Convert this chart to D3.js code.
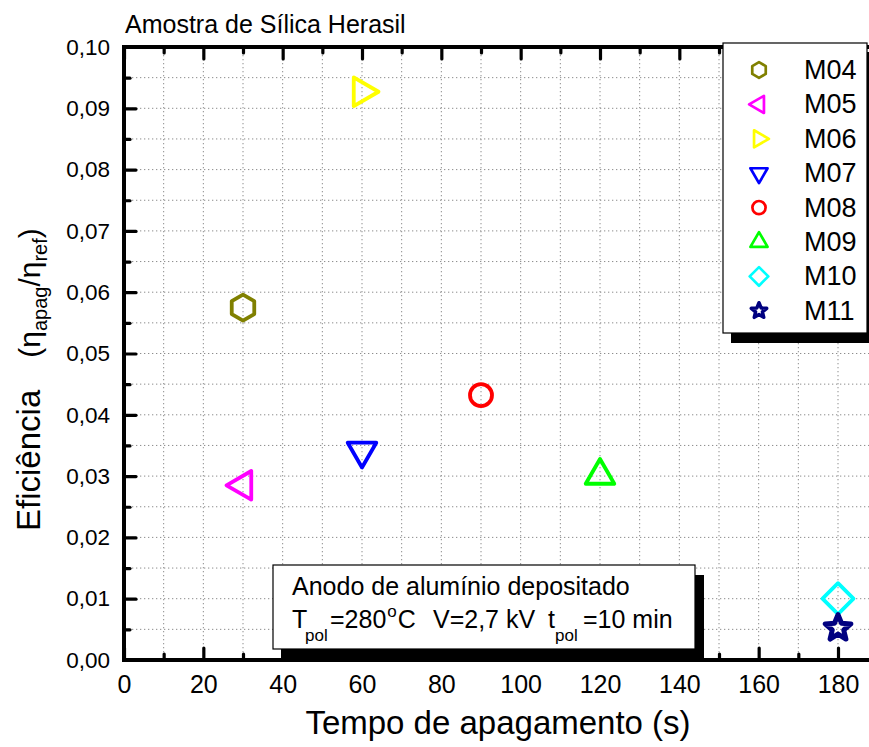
<!DOCTYPE html>
<html>
<head>
<meta charset="utf-8">
<script src="https://cdn.jsdelivr.net/npm/d3@7"></script>
<style>
  html, body { margin: 0; padding: 0; background: #fff; }
  svg { display: block; font-family: "Liberation Sans", Arial, sans-serif; }
</style>
</head>
<body>
<svg id="chart" width="869" height="747"></svg>
<script>
// Quenching efficiency of Herasil silica samples vs. quenching time
const samples = ["M04", "M05", "M06", "M07", "M08", "M09", "M10", "M11"];
const times = [30, 30, 60, 60, 90, 120, 180, 180];           // s
const efficiency = [0.0575, 0.0285, 0.0927, 0.0341, 0.0432, 0.0301, 0.0100, 0.0052];
const colors = ["#808000", "#ff00ff", "#ffff00", "#0000ff", "#ff0000", "#00ff00", "#00ffff", "#000080"];
const shapes = ["hexagon", "triangleLeft", "triangleRight", "triangleDown", "circle", "triangleUp", "diamond", "star"];

const xMajorTicks = [0, 20, 40, 60, 80, 100, 120, 140, 160, 180];
const xMinorTicks = [10, 30, 50, 70, 90, 110, 130, 150, 170];
const yMajorTicks = [0, 0.01, 0.02, 0.03, 0.04, 0.05, 0.06, 0.07, 0.08, 0.09, 0.10];
const yMinorTicks = [0.005, 0.015, 0.025, 0.035, 0.045, 0.055, 0.065, 0.075, 0.085, 0.095];

const svg = d3.select("#chart");
const x = d3.scaleLinear().domain([0, 180]).range([124, 838]);
const y = d3.scaleLinear().domain([0, 0.10]).range([660, 47]);
const xEnd = x(190);

const ptBR = d3.formatLocale({ decimal: ",", thousands: ".", grouping: [3], currency: ["R$", ""] });
const yFmt = ptBR.format(".2f");

// marker path builders (centred on 0,0)
function polygon(pts) { return "M" + pts.map(p => p[0].toFixed(2) + "," + p[1].toFixed(2)).join("L") + "Z"; }
function markerPath(shape, s) {
  switch (shape) {
    case "hexagon":
      return polygon(d3.range(6).map(i => { const a = Math.PI / 3 * i - Math.PI / 2; return [13 * s * Math.cos(a), 13 * s * Math.sin(a)]; }));
    case "triangleUp":
    case "triangleDown":
    case "triangleLeft":
    case "triangleRight": {
      const rot = { triangleUp: -90, triangleDown: 90, triangleLeft: 180, triangleRight: 0 }[shape] * Math.PI / 180;
      const R = 16.5 * s;
      return polygon([0, 1, 2].map(i => { const a = rot + i * 2 * Math.PI / 3; return [R * Math.cos(a), R * Math.sin(a)]; }));
    }
    case "circle": {
      const r = 11 * s;
      return `M${r},0A${r},${r} 0 1,1 ${-r},0A${r},${r} 0 1,1 ${r},0Z`;
    }
    case "diamond": {
      const r = 15.5 * s;
      return polygon([[0, -r], [r, 0], [0, r], [-r, 0]]);
    }
    case "star": {
      const ro = 13.5 * s, ri = 6 * s;
      return polygon(d3.range(10).map(i => { const a = -Math.PI / 2 + i * Math.PI / 5; const r = i % 2 ? ri : ro; return [r * Math.cos(a), r * Math.sin(a)]; }));
    }
  }
}

// dotted grid
const grid = svg.append("g").attr("stroke", "#8c8c8c").attr("stroke-width", 1).attr("stroke-dasharray", "1.3,2.7");
grid.selectAll("line.gx").data(xMajorTicks.concat(xMinorTicks).filter(v => v > 0)).join("line")
  .attr("x1", d => x(d)).attr("x2", d => x(d)).attr("y1", y(0.10)).attr("y2", y(0));
grid.selectAll("line.gy").data(yMajorTicks.concat(yMinorTicks).filter(v => v > 0 && v < 0.10)).join("line")
  .attr("x1", x(0)).attr("x2", xEnd).attr("y1", d => y(d)).attr("y2", d => y(d));

// axes: inward ticks, labels only on the major ones
function styleAxis(g) {
  g.select(".domain").remove();
  g.selectAll(".tick line").attr("stroke", "#000").attr("stroke-width", 3.2).attr("stroke-linecap", "round");
  g.selectAll(".tick text").attr("fill", "#000");
}
svg.append("g").attr("transform", `translate(0,${y(0)})`)
  .call(d3.axisBottom(x).tickValues(xMajorTicks).tickSizeInner(-12).tickSizeOuter(0).tickPadding(28).tickFormat(d3.format("d")))
  .call(styleAxis).call(g => g.selectAll(".tick text").attr("font-size", 25).attr("dy", "0.2em"));
svg.append("g").attr("transform", `translate(0,${y(0)})`)
  .call(d3.axisBottom(x).tickValues(xMinorTicks).tickSizeInner(-6).tickSizeOuter(0).tickFormat(""))
  .call(styleAxis);
svg.append("g").attr("transform", `translate(0,${y(0.10)})`)
  .call(d3.axisTop(x).tickValues(xMajorTicks).tickSizeInner(-12).tickSizeOuter(0).tickFormat(""))
  .call(styleAxis);
svg.append("g").attr("transform", `translate(0,${y(0.10)})`)
  .call(d3.axisTop(x).tickValues(xMinorTicks).tickSizeInner(-6).tickSizeOuter(0).tickFormat(""))
  .call(styleAxis);
svg.append("g").attr("transform", `translate(${x(0)},0)`)
  .call(d3.axisLeft(y).tickValues(yMajorTicks).tickSizeInner(-12).tickSizeOuter(0).tickPadding(14).tickFormat(yFmt))
  .call(styleAxis).call(g => g.selectAll(".tick text").attr("font-size", 22.5).attr("text-anchor", "end").attr("x", -14));
svg.append("g").attr("transform", `translate(${x(0)},0)`)
  .call(d3.axisLeft(y).tickValues(yMinorTicks).tickSizeInner(-6).tickSizeOuter(0).tickFormat(""))
  .call(styleAxis);

// frame
const frame = svg.append("g").attr("stroke", "#000").attr("stroke-width", 4).attr("fill", "none");
frame.append("line").attr("x1", x(0)).attr("x2", xEnd).attr("y1", y(0)).attr("y2", y(0));
frame.append("line").attr("x1", x(0)).attr("x2", xEnd).attr("y1", y(0.10)).attr("y2", y(0.10));
frame.append("line").attr("x1", x(0)).attr("x2", x(0)).attr("y1", y(0.10) - 2).attr("y2", y(0) + 2);

// annotation box with drop shadow
const note = svg.append("g");
note.append("rect").attr("x", 281).attr("y", 575).attr("width", 423).attr("height", 83).attr("fill", "#000");
note.append("rect").attr("x", 273).attr("y", 565).attr("width", 422).attr("height", 84)
  .attr("fill", "#fff").attr("stroke", "#000").attr("stroke-width", 1.2);
note.append("text").attr("x", 292).attr("y", 595).attr("font-size", 25).text("Anodo de alumínio depositado");
const l2 = note.append("g").attr("font-size", 25);
l2.append("text").attr("x", 292).attr("y", 628).text("T");
l2.append("text").attr("x", 305).attr("y", 641).attr("font-size", 17).text("pol");
const tC = l2.append("text").attr("x", 330).attr("y", 628);
tC.append("tspan").text("=280");
tC.append("tspan").attr("font-size", 17).attr("dx", 1).attr("dy", -11).text("o");
tC.append("tspan").attr("dx", 1).attr("dy", 11).text("C");
l2.append("text").attr("x", 433).attr("y", 628).text("V=2,7 kV");
l2.append("text").attr("x", 548).attr("y", 628).text("t");
l2.append("text").attr("x", 555).attr("y", 641).attr("font-size", 17).text("pol");
l2.append("text").attr("x", 583).attr("y", 628).text("=10 min");

// data markers
svg.append("g").selectAll("path").data(samples).join("path")
  .attr("transform", (d, i) => `translate(${x(times[i])},${y(efficiency[i])})`)
  .attr("d", (d, i) => markerPath(shapes[i], 1))
  .attr("fill", "none")
  .attr("stroke", (d, i) => colors[i])
  .attr("stroke-width", (d, i) => shapes[i] === "star" ? 5 : 3.8)
  .attr("stroke-linejoin", "round");

// legend with drop shadow
const leg = svg.append("g");
leg.append("rect").attr("x", 731).attr("y", 52).attr("width", 150).attr("height", 291).attr("fill", "#000");
leg.append("rect").attr("x", 723).attr("y", 43).attr("width", 144).attr("height", 290)
  .attr("fill", "#fff").attr("stroke", "#000").attr("stroke-width", 1.2);
const item = leg.selectAll("g.item").data(samples).join("g")
  .attr("transform", (d, i) => `translate(0,${70 + i * 34.4})`);
item.append("path")
  .attr("transform", "translate(759,0)")
  .attr("d", (d, i) => markerPath(shapes[i], 0.6))
  .attr("fill", "none")
  .attr("stroke", (d, i) => colors[i])
  .attr("stroke-width", (d, i) => shapes[i] === "star" ? 3.5 : 2.7)
  .attr("stroke-linejoin", "round");
item.append("text").attr("x", 804).attr("y", 9).attr("font-size", 27).text(d => d);

// titles
svg.append("text").attr("x", 125).attr("y", 33).attr("font-size", 25).text("Amostra de Sílica Herasil");
svg.append("text").attr("x", 498).attr("y", 734).attr("text-anchor", "middle").attr("font-size", 33)
  .text("Tempo de apagamento (s)");
const yt = svg.append("text").attr("transform", "translate(40,531) rotate(-90)").attr("font-size", 33);
yt.append("tspan").text("Eficiência");
yt.append("tspan").attr("dx", 32).attr("font-size", 30).text("(η");
yt.append("tspan").attr("font-size", 20).attr("dy", 7).text("apag");
yt.append("tspan").attr("font-size", 30).attr("dy", -7).text("/η");
yt.append("tspan").attr("font-size", 20).attr("dy", 7).text("ref");
yt.append("tspan").attr("font-size", 30).attr("dy", -7).text(")");
</script>
</body>
</html>
